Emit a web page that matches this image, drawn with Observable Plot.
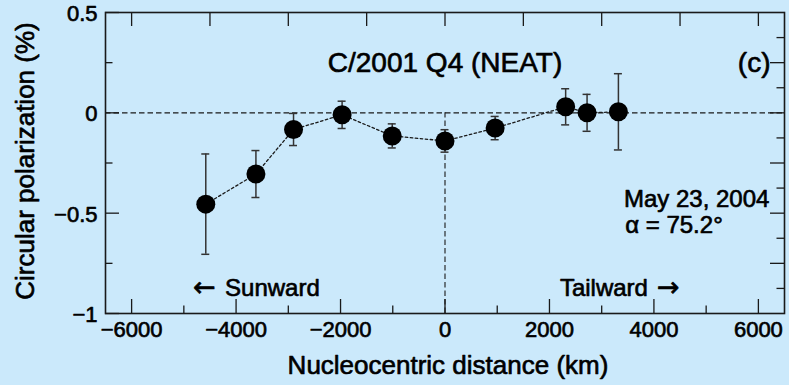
<!DOCTYPE html>
<html>
<head>
<meta charset="utf-8">
<script src="https://cdn.jsdelivr.net/npm/d3@7"></script>
<script src="https://cdn.jsdelivr.net/npm/@observablehq/plot@0.6"></script>
<style>
  html, body { margin: 0; padding: 0; background: #cbe9fb; }
  svg { display: block; }
</style>
</head>
<body>
<div id="chart"></div>
<script>
// Data
const distance = [-4580, -3620, -2900, -1970, -1010, 0, 960, 2310, 2720, 3320];
const polarization = [-0.455, -0.305, -0.083, -0.01, -0.115, -0.14, -0.076, 0.03, 0.0, 0.005];
const errors = [0.25, 0.117, 0.08, 0.068, 0.06, 0.056, 0.058, 0.09, 0.092, 0.19];

const xTicksMajor = [-6000, -4000, -2000, 0, 2000, 4000, 6000];
const xTicksMinor = [-5000, -3000, -1000, 1000, 3000, 5000];
const xTicksTop = [-6000, -4500, -3000, -1500, 0, 1500, 3000, 4500, 6000];
const yTicksMajor = [0.5, 0, -0.5, -1];
const yTicksMinor = [0.25, -0.25, -0.75];
const yTicksRightMajor = [0.25, 0, -0.25, -0.5, -0.75];
const yTicksRightMinor = [0.375, 0.125, -0.125, -0.375, -0.625, -0.875];

const title = "C/2001 Q4 (NEAT)";
const panel = "(c)";
const dateText = "May 23, 2004";
const alphaText = "\u03B1 = 75.2\u00B0";
const xLabel = "Nucleocentric distance (km)";
const yLabel = "Circular polarization (%)";
const sunText = "Sunward";
const tailText = "Tailward";

const data = distance.map((x, i) => ({
  x, y: polarization[i], lo: polarization[i] - errors[i], hi: polarization[i] + errors[i]
}));

const W = 789, H = 385;
const mL = 105, mR = 5, mT = 12, mB = 72;
const pw = W - mL - mR, ph = H - mT - mB;
const LONG = 14, SHORT = 7.5;
const fmt = d => d < 0 ? "\u2212" + Math.abs(d) : String(d);
const ink = "#1a1a1a";
const T = { fill: "#000", stroke: "#000", strokeWidth: 0.65 };

const chart = Plot.plot({
  width: W, height: H,
  marginLeft: mL, marginRight: mR, marginTop: mT, marginBottom: mB,
  style: { background: "#cbe9fb", fontFamily: "'Liberation Sans', Arial, sans-serif", color: "#000" },
  x: { domain: [-6500, 6500], axis: null },
  y: { domain: [-1, 0.5], axis: null },
  marks: [
    // reference lines
    Plot.ruleY([0], { stroke: ink, strokeWidth: 1.1, strokeDasharray: "5.5,3" }),
    Plot.ruleX([0], { y1: -1, y2: 0, stroke: ink, strokeWidth: 1.1, strokeDasharray: "5.5,3" }),
    // ticks (inward)
    Plot.tickX(xTicksMajor, { x: d => d, insetTop: ph - LONG, stroke: ink, strokeWidth: 1.3 }),
    Plot.tickX(xTicksMinor, { x: d => d, insetTop: ph - SHORT, stroke: ink, strokeWidth: 1.3 }),
    Plot.tickX(xTicksTop, { x: d => d, insetBottom: ph - LONG, stroke: ink, strokeWidth: 1.3 }),
    Plot.tickY(yTicksMajor, { y: d => d, insetRight: pw - LONG, stroke: ink, strokeWidth: 1.3 }),
    Plot.tickY(yTicksMinor, { y: d => d, insetRight: pw - SHORT, stroke: ink, strokeWidth: 1.3 }),
    Plot.tickY(yTicksRightMajor, { y: d => d, insetLeft: pw - LONG, stroke: ink, strokeWidth: 1.3 }),
    Plot.tickY(yTicksRightMinor, { y: d => d, insetLeft: pw - SHORT, stroke: ink, strokeWidth: 1.3 }),
    Plot.frame({ stroke: ink, strokeWidth: 1.6 }),
    // connecting dotted line
    Plot.line(data, { x: "x", y: "y", stroke: ink, strokeWidth: 1.3, strokeDasharray: "2.5,2.5" }),
    // error bars
    Plot.ruleX(data, { x: "x", y1: "lo", y2: "hi", stroke: "#333", strokeWidth: 1.5 }),
    Plot.ruleY(data, { y: "hi", x1: "x", x2: "x", insetLeft: -4, insetRight: -4, stroke: "#333", strokeWidth: 1.5 }),
    Plot.ruleY(data, { y: "lo", x1: "x", x2: "x", insetLeft: -4, insetRight: -4, stroke: "#333", strokeWidth: 1.5 }),
    // points
    Plot.dot(data, { x: "x", y: "y", r: 9.5, fill: "#000", stroke: "none" }),
    // tick labels
    Plot.text(xTicksMajor, { x: d => d, text: fmt, frameAnchor: "bottom", dy: 23, fontSize: 22, ...T }),
    Plot.text(yTicksMajor, { y: d => d, text: fmt, frameAnchor: "left", textAnchor: "end", dx: -8, dy: 1.5, fontSize: 22, ...T }),
    // axis titles
    Plot.text([xLabel], { text: d => d, frameAnchor: "bottom", dy: 60, dx: 3, fontSize: 26, ...T }),
    Plot.text([yLabel], { text: d => d, frameAnchor: "left", textAnchor: "middle", rotate: -90, dx: -80, dy: -2, fontSize: 26, ...T }),
    // annotations
    Plot.text([title], { text: d => d, frameAnchor: "top", dy: 39.5, fontSize: 28, ...T }),
    Plot.text([panel], { text: d => d, frameAnchor: "top-right", textAnchor: "end", dx: -14, dy: 39.5, fontSize: 28, ...T }),
    Plot.text([dateText], { text: d => d, x: 3426, y: -0.433, textAnchor: "start", fontSize: 24, ...T }),
    Plot.text([alphaText], { text: d => d, x: 3450, y: -0.563, textAnchor: "start", fontSize: 24, ...T }),
    Plot.text(["\u2190"], { text: d => d, x: -4823, y: -0.872, textAnchor: "start", fontSize: 27, fontFamily: "DejaVu Sans", ...T }),
    Plot.text([sunText], { text: d => d, x: -4211, y: -0.872, textAnchor: "start", fontSize: 24, ...T }),
    Plot.text([tailText], { text: d => d, x: 3885, y: -0.872, textAnchor: "end", fontSize: 24, ...T }),
    Plot.text(["\u2192"], { text: d => d, x: 4057, y: -0.872, textAnchor: "start", fontSize: 27, fontFamily: "DejaVu Sans", ...T })
  ]
});
document.getElementById("chart").appendChild(chart);
</script>
</body>
</html>
